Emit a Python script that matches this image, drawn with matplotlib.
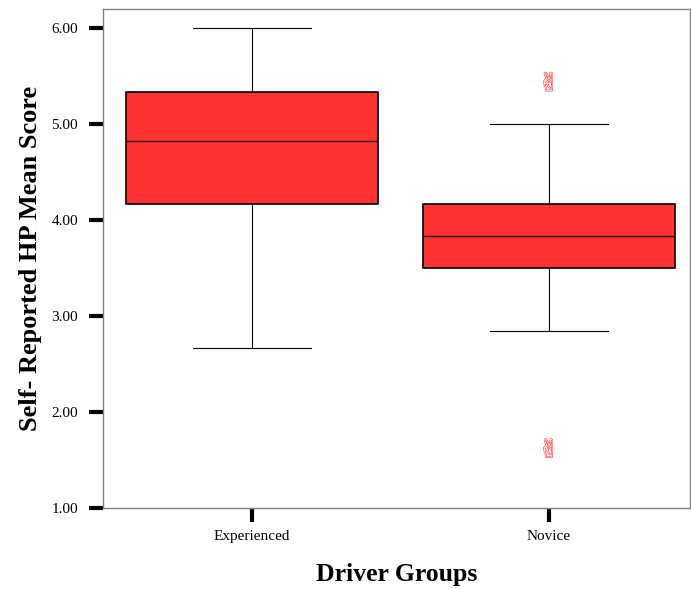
import numpy as np
import matplotlib
matplotlib.use("Agg")
from matplotlib import pyplot as plt
import matplotlib.patheffects as pe

# box statistics
groups = ["Experienced", "Novice"]
whisker_low = [2.67, 2.84]
q1 = [4.17, 3.50]
median = [4.82, 3.83]
q3 = [5.33, 4.17]
whisker_high = [6.00, 5.00]
outliers = [[], [5.42, 1.60]]
yticks = [1.0, 2.0, 3.0, 4.0, 5.0, 6.0]

plt.rcParams['font.family'] = ['Liberation Serif', 'DejaVu Sans']

fig = plt.figure(figsize=(6.91, 5.89), dpi=100)
ax = fig.add_axes([103/691, 1 - 508/589, 587/691, 499/589])

stats = []
for i in range(len(groups)):
    stats.append(dict(label=groups[i], whislo=whisker_low[i], q1=q1[i], med=median[i],
                      q3=q3[i], whishi=whisker_high[i], fliers=[]))

pos = [1, 2]
ax.bxp(stats, positions=pos, widths=0.85, patch_artist=True, showfliers=False,
       boxprops=dict(facecolor='#ff3333', edgecolor='black', linewidth=1.2),
       medianprops=dict(color='#3a0a0a', linewidth=1),
       whiskerprops=dict(color='black', linewidth=0.8),
       capprops=dict(color='black', linewidth=0.8),
       capwidths=0.4)

# outliers drawn with the victory-hand glyph, as in the original
for i, vals in enumerate(outliers):
    for v in vals:
        ax.text(pos[i], v, '\u270C', family='DejaVu Sans', fontsize=18, color='white',
                ha='center', va='center',
                path_effects=[pe.withStroke(linewidth=0.9, foreground='#ff4a4a')])

ax.set_xlim(0.498, 2.475)
ax.set_ylim(1.0, 6.2)
ax.set_yticks(yticks)
ax.set_yticklabels(["%.2f" % v for v in yticks], fontsize=11)
ax.set_xticks(pos)
ax.set_xticklabels(groups, fontsize=11)
ax.tick_params(axis='both', direction='out', length=10, width=3, color='black', pad=6)
ax.tick_params(axis='y', pad=8)

for s in ax.spines.values():
    s.set_color('#808080')
    s.set_linewidth(1)

ax.set_ylabel("Self- Reported HP Mean Score", fontsize=19, fontweight='bold', labelpad=7)
ax.set_xlabel("Driver Groups", fontsize=18.5, fontweight='bold', labelpad=14)

fig.savefig("out.png", dpi=100)
